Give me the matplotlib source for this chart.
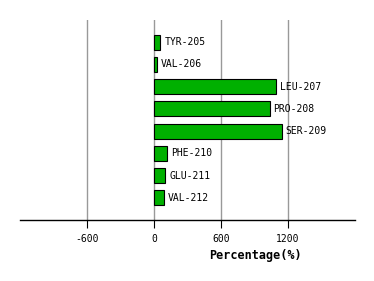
import matplotlib
matplotlib.use('Agg')
import matplotlib.pyplot as plt
import matplotlib.transforms as mtransforms

residues = ['TYR-205', 'VAL-206', 'LEU-207', 'PRO-208', 'SER-209', 'PHE-210', 'GLU-211', 'VAL-212']
percentages = [57, 27, 1092, 1038, 1146, 117, 102, 90]
xticks = [-600, 0, 600, 1200]

fig = plt.figure(figsize=(3.74, 2.81), dpi=100)
ax = fig.add_axes([20 / 374, 1 - 220 / 281, 335 / 374, 200 / 281])

ypos = list(range(len(residues)))
ax.barh(ypos, percentages, height=0.67, color='#00b000', edgecolor='black', linewidth=0.8, zorder=3)

offset = mtransforms.offset_copy(ax.transData, fig=fig, x=4, y=0, units='dots')
for y, v, name in zip(ypos, percentages, residues):
    ax.text(v, y, name, transform=offset, ha='left', va='center',
            fontsize=7, family='DejaVu Sans Mono', zorder=4)

ax.set_xlim(-1206, 1806)
ax.set_ylim(8, -1)
ax.set_xticks(xticks)
ax.set_xticklabels([str(t) for t in xticks], family='DejaVu Sans Mono', fontsize=7)
ax.set_yticks([])
for t in xticks:
    ax.axvline(t, color='#999999', linewidth=1, zorder=1)

for s in ['top', 'left', 'right']:
    ax.spines[s].set_visible(False)
ax.spines['bottom'].set_linewidth(1)
ax.tick_params(axis='x', length=6, width=0.8, color='black', pad=4)

fig.text(255 / 374, 1 - 255 / 281, 'Percentage(%)', ha='center', va='center',
         fontsize=8.5, fontweight='bold', family='DejaVu Sans Mono')

fig.savefig('out.png', dpi=100)
